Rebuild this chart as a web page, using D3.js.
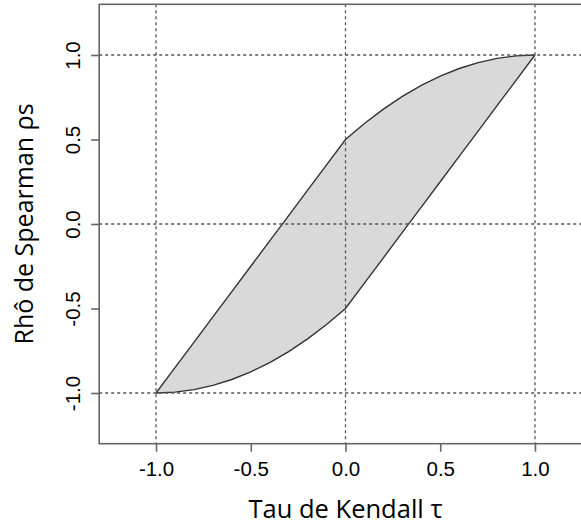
<!DOCTYPE html>
<html>
<head>
<meta charset="utf-8">
<script src="https://cdn.jsdelivr.net/npm/d3@7"></script>
<style>
  html, body { margin: 0; padding: 0; background: #fff; }
  svg { display: block; }
</style>
</head>
<body>
<svg id="chart" width="581" height="527"></svg>
<script>
// Kendall tau values where the boundary was read
const tau = [-1.0, -0.9, -0.8, -0.7, -0.6, -0.5, -0.4, -0.3, -0.2, -0.1, 0.0,
  0.1, 0.2, 0.3, 0.4, 0.5, 0.6, 0.7, 0.8, 0.9, 1.0]

// upper edge of the shaded region (Spearman rho)
const rhoUpper = [-1.0, -0.85, -0.7, -0.55, -0.4, -0.25, -0.1, 0.05, 0.2, 0.35, 0.5,
  0.595, 0.68, 0.755, 0.82, 0.875, 0.92, 0.955, 0.98, 0.995, 1.0]

// lower edge of the shaded region
const rhoLower = [-1.0, -0.995, -0.98, -0.955, -0.92, -0.875, -0.82, -0.755, -0.68, -0.595, -0.5,
  -0.35, -0.2, -0.05, 0.1, 0.25, 0.4, 0.55, 0.7, 0.85, 1.0]

const tickValues = [-1.0, -0.5, 0.0, 0.5, 1.0]
const gridValues = [-1.0, 0.0, 1.0]

const xLabel = 'Tau de Kendall \u03c4'
const yLabel = 'Rh\u00f4 de Spearman \u03c1s'

const box = { left: 99.2, right: 591.8, top: 4.3, bottom: 443.7 }

const x = d3.scaleLinear().domain([-1.3, 1.3]).range([box.left, box.right])
const y = d3.scaleLinear().domain([-1.3, 1.3]).range([box.bottom, box.top])

const svg = d3.select('#chart')

const rows = tau.map((t, i) => ({ t, hi: rhoUpper[i], lo: rhoLower[i] }))

// shaded region between the bounds
svg.append('path')
  .datum(rows)
  .attr('d', d3.area().x(d => x(d.t)).y0(d => y(d.lo)).y1(d => y(d.hi)))
  .attr('fill', '#d9d9d9')
  .attr('stroke', 'none')

const line = d3.line().x(d => x(d[0])).y(d => y(d[1]))
svg.append('path')
  .attr('d', line(rows.map(d => [d.t, d.hi])))
  .attr('fill', 'none')
  .attr('stroke', '#333')
  .attr('stroke-width', 1.4)
svg.append('path')
  .attr('d', line(rows.map(d => [d.t, d.lo])))
  .attr('fill', 'none')
  .attr('stroke', '#333')
  .attr('stroke-width', 1.4)

// dotted reference lines
const grid = svg.append('g')
  .attr('stroke', '#555')
  .attr('stroke-width', 1.3)
  .attr('stroke-dasharray', '3,3')
grid.selectAll('line.v')
  .data(gridValues)
  .enter()
  .append('line')
  .attr('x1', d => x(d)).attr('x2', d => x(d))
  .attr('y1', box.top).attr('y2', box.bottom)
grid.selectAll('line.h')
  .data(gridValues)
  .enter()
  .append('line')
  .attr('y1', d => y(d)).attr('y2', d => y(d))
  .attr('x1', box.left).attr('x2', box.right)

// plot frame
svg.append('rect')
  .attr('x', box.left).attr('y', box.top)
  .attr('width', box.right - box.left).attr('height', box.bottom - box.top)
  .attr('fill', 'none')
  .attr('stroke', '#666')
  .attr('stroke-width', 1.6)

// axes
const xAxis = svg.append('g')
  .attr('transform', `translate(0,${box.bottom})`)
  .call(d3.axisBottom(x).tickValues(tickValues).tickFormat(d3.format('.1f')).tickSize(8).tickPadding(10))
const yAxis = svg.append('g')
  .attr('transform', `translate(${box.left},0)`)
  .call(d3.axisLeft(y).tickValues(tickValues).tickFormat(d3.format('.1f')).tickSize(8).tickPadding(7))

for (const ax of [xAxis, yAxis]) {
  ax.select('.domain').remove()
  ax.selectAll('.tick line').attr('stroke', '#666').attr('stroke-width', 1.6)
  ax.selectAll('.tick text')
    .attr('fill', '#000')
    .style('font-family', '"Liberation Sans", Arial, sans-serif')
    .style('font-size', '20.5px')
}
// plain hyphen for negatives, like the reference
svg.selectAll('.tick text').text(d => d3.format('.1f')(d).replace('\u2212', '-'))

// y tick labels are rotated like R's default
yAxis.selectAll('.tick text')
  .attr('text-anchor', 'middle')
  .attr('x', null)
  .attr('dy', null)
  .attr('transform', 'translate(-19,0) rotate(-90)')

// axis titles
svg.append('text')
  .attr('x', x(0))
  .attr('y', 518)
  .attr('text-anchor', 'middle')
  .style('font-family', '"Open Sans", "Noto Sans", sans-serif')
  .style('font-size', '25.5px')
  .attr('fill', '#000')
  .text(xLabel)

svg.append('text')
  .attr('transform', `translate(33,${y(0)}) rotate(-90)`)
  .attr('text-anchor', 'middle')
  .style('font-family', '"Open Sans", "Noto Sans", sans-serif')
  .style('font-size', '25px')
  .attr('fill', '#000')
  .text(yLabel)
</script>
</body>
</html>
